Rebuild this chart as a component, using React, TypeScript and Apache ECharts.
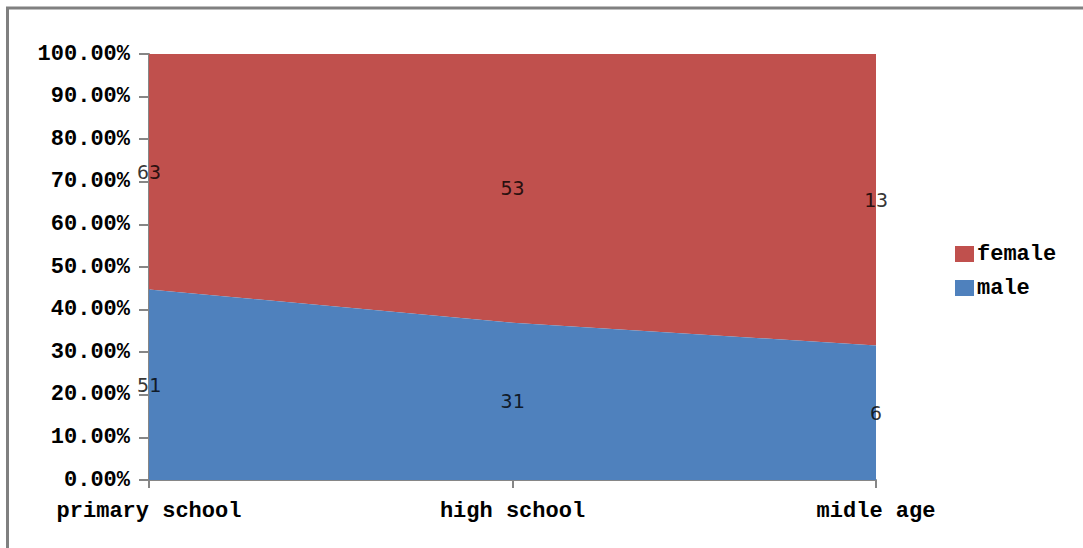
import React, { useEffect, useRef } from "react";
import * as echarts from "echarts";

const categories = ["primary school", "high school", "midle age"];
const femaleValues = [63, 53, 13];
const maleValues = [51, 31, 6];
const yTicks = { min: 0, max: 100, interval: 10 };

const RED = "#C0504D";
const BLUE = "#4F81BD";
const GRAY = "#868686";
const FONT = "'Liberation Mono', 'DejaVu Sans Mono', monospace";

export default function App() {
  const ref = useRef<HTMLDivElement>(null);
  useEffect(() => {
    if (!ref.current) return;
    const chart = echarts.init(ref.current, undefined, { renderer: "svg" });
    const totals = categories.map((_, i) => maleValues[i] + femaleValues[i]);
    const malePct = maleValues.map((v, i) => (v / totals[i]) * 100);
    const femalePct = femaleValues.map((v, i) => (v / totals[i]) * 100);
    const maleMid = malePct.map((p) => p / 2);
    const femaleMid = femalePct.map((p, i) => malePct[i] + p / 2);

    const labelStyle = {
      show: true,
      position: "inside",
      color: "#000",
      fontFamily: "'DejaVu Sans Mono', monospace",
      fontSize: 20,
    };

    chart.setOption({
      animation: false,
      backgroundColor: "#fff",
      grid: { left: 149, right: 207, top: 54, bottom: 68 },
      legend: {
        data: [
          { name: "female", icon: "rect" },
          { name: "male", icon: "rect" },
        ],
        orient: "vertical",
        left: 950,
        top: 238,
        itemWidth: 19,
        itemHeight: 16,
        itemGap: 12,
        textStyle: { fontFamily: FONT, fontSize: 22, fontWeight: "bold", color: "#000", padding: [0, 0, 0, -2] },
      },
      xAxis: {
        type: "category",
        data: categories,
        boundaryGap: false,
        axisLine: { lineStyle: { color: GRAY, width: 2 } },
        axisTick: { show: true, length: 8, lineStyle: { color: GRAY, width: 2 } },
        axisLabel: { fontFamily: FONT, fontSize: 22, fontWeight: "bold", color: "#000", margin: 20 },
        splitLine: { show: false },
      },
      yAxis: {
        type: "value",
        min: yTicks.min,
        max: yTicks.max,
        interval: yTicks.interval,
        axisLine: { show: true, lineStyle: { color: GRAY, width: 2 } },
        axisTick: { show: true, length: 10, lineStyle: { color: GRAY, width: 2 } },
        axisLabel: {
          fontFamily: FONT,
          fontSize: 22,
          fontWeight: "bold",
          color: "#000",
          margin: 19,
          formatter: (v: number) => v.toFixed(2) + "%",
        },
        splitLine: { show: false },
      },
      series: [
        {
          name: "male",
          type: "line",
          stack: "total",
          data: malePct,
          symbol: "none",
          lineStyle: { width: 0 },
          itemStyle: { color: BLUE },
          areaStyle: { color: BLUE, opacity: 1 },
          z: 2,
        },
        {
          name: "female",
          type: "line",
          stack: "total",
          data: femalePct,
          symbol: "none",
          lineStyle: { width: 0 },
          itemStyle: { color: RED },
          areaStyle: { color: RED, opacity: 1 },
          z: 1,
        },
        {
          name: "maleLabels",
          type: "scatter",
          data: maleMid,
          symbolSize: 1,
          itemStyle: { color: "rgba(0,0,0,0)" },
          label: { ...labelStyle, formatter: (p: any) => String(maleValues[p.dataIndex]) },
          z: 5,
          silent: true,
        },
        {
          name: "femaleLabels",
          type: "scatter",
          data: femaleMid,
          symbolSize: 1,
          itemStyle: { color: "rgba(0,0,0,0)" },
          label: { ...labelStyle, formatter: (p: any) => String(femaleValues[p.dataIndex]) },
          z: 5,
          silent: true,
        },
      ],
      graphic: [
        {
          type: "rect",
          shape: { x: 7.5, y: 8, width: 1200, height: 700 },
          style: { fill: "none", stroke: "#808080", lineWidth: 3 },
          silent: true,
        },
      ],
    });
    return () => chart.dispose();
  }, []);
  return (
    <div
      ref={ref}
      style={{ position: "fixed", left: 0, top: 0, width: 1083, height: 548 }}
    />
  );
}
